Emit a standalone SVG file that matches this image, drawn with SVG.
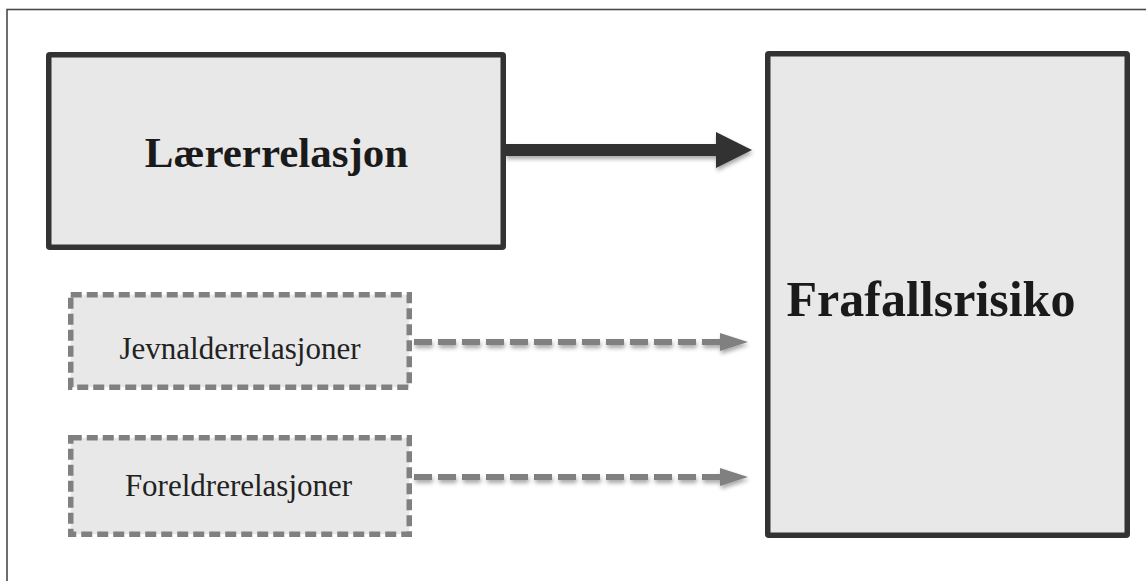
<svg xmlns="http://www.w3.org/2000/svg" width="1146" height="581" viewBox="0 0 1146 581">
<style>
.frame{fill:none;stroke:#4a4a4a;stroke-width:1.6}
.solid{fill:#e8e8e8;stroke:#333;stroke-width:5.5}
.dashed{fill:#e8e8e8;stroke:#808080;stroke-width:5.5;stroke-dasharray:11 5}
.big{font-family:"Liberation Serif","Times New Roman",serif;font-weight:bold;fill:#1a1a1a;text-anchor:middle}
.small{font-family:"Liberation Serif","Times New Roman",serif;font-size:31px;fill:#222;text-anchor:middle}
.dline{stroke:#808080;stroke-width:6;stroke-dasharray:18 6;fill:none}
</style>
<defs>
<filter id="sh" x="-10%" y="-50%" width="120%" height="200%">
<feGaussianBlur in="SourceAlpha" stdDeviation="2"/>
<feOffset dx="1" dy="3" result="b"/>
<feComponentTransfer><feFuncA type="linear" slope="0.35"/></feComponentTransfer>
<feMerge><feMergeNode/><feMergeNode in="SourceGraphic"/></feMerge>
</filter>
</defs>
<rect class="frame" x="7" y="9.5" width="1160" height="600"/>
<g id="connectors">
<g filter="url(#sh)">
<rect x="505" y="144" width="212" height="12" fill="#333"/>
<polygon points="716,132 752,150 716,168" fill="#333"/>
</g>
<g filter="url(#sh)">
<line class="dline" x1="414" y1="342" x2="720" y2="342"/>
<polygon points="720,333 748,342 720,351" fill="#808080"/>
</g>
<g filter="url(#sh)">
<line class="dline" x1="414" y1="477" x2="720" y2="477"/>
<polygon points="720,468 748,477 720,486" fill="#808080"/>
</g>
</g>
<g id="laerer">
<rect class="solid" x="48.75" y="54.75" width="454.5" height="192.5" rx="1"/>
<text class="big" x="276.5" y="167" font-size="43">Lærerrelasjon</text>
</g>
<g id="frafall">
<rect class="solid" x="767.75" y="53.75" width="359.5" height="481.5" rx="1"/>
<text class="big" x="931" y="316" font-size="50">Frafallsrisiko</text>
</g>
<g id="jevnalder">
<rect class="dashed" x="70.75" y="294.75" width="338.5" height="92.5"/>
<text class="small" x="240" y="359">Jevnalderrelasjoner</text>
</g>
<g id="foreldre">
<rect class="dashed" x="70.75" y="437.75" width="338.5" height="96.5"/>
<text class="small" x="238.5" y="496">Foreldrerelasjoner</text>
</g>
</svg>
